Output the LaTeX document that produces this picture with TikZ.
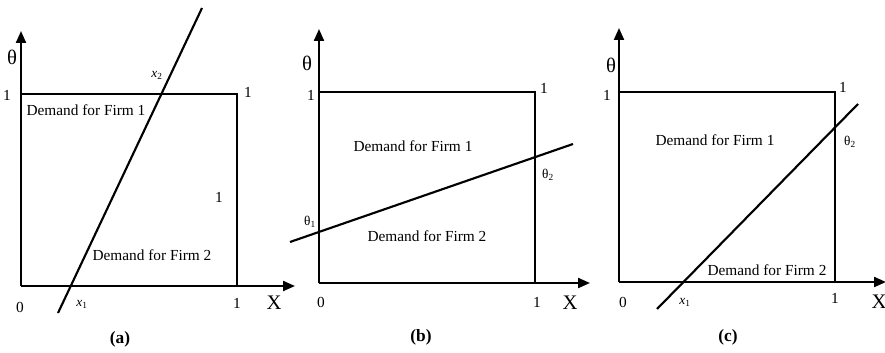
\documentclass[tikz,border=0pt]{standalone}
\usepackage{fontspec}
\setmainfont{Liberation Serif}
\usetikzlibrary{arrows.meta, positioning}

\begin{document}
\begin{tikzpicture}[x=0.75pt, y=-0.75pt,
    axis/.style={line width=1.6pt, -{Triangle[length=9pt, width=7.5pt]}},
    boxline/.style={line width=1.4pt},
    demand/.style={line width=1.6pt},
    lbl/.style={inner sep=0pt, font=\fontsize{11.5}{14}\selectfont},
    small/.style={inner sep=0pt, font=\fontsize{10}{12}\selectfont},
    big/.style={inner sep=0pt, font=\fontsize{15.5}{17}\selectfont},
    panellbl/.style={inner sep=0pt, font=\fontsize{13}{15}\selectfont\bfseries}]
    \useasboundingbox (0,0) rectangle (885,353);

    % panel (a)
    \coordinate (a-o) at (21,286);
    \coordinate (a-y) at (21,31);
    \coordinate (a-x) at (295,286);
    \coordinate (a-tl) at (21,94);
    \coordinate (a-tr) at (237,94);
    \coordinate (a-br) at (237,286);
    \coordinate (a-p) at (58,313);
    \coordinate (a-q) at (202,8);
    \draw[axis] (a-o) -- (a-y);
    \draw[axis] (a-o) -- (a-x);
    \draw[boxline] (a-tl) -- (a-tr) -- (a-br);
    \draw[demand] (a-p) -- (a-q);
    \node[big] (a-theta) at (12,57) {θ};
    \node[lbl] (a-one-l) at (7,95) {1};
    \node[lbl] (a-one-t) at (248,92) {1};
    \node[lbl] (a-one-r) at (219,197) {1};
    \node[lbl] (a-f1) at (86,110) {Demand for Firm 1};
    \node[lbl] (a-f2) at (152,255) {Demand for Firm 2};
    \node[small] (a-x2) at (157,75) {\textit{x}\textsubscript{2}};
    \node[small] (a-x1) at (82,304) {\textit{x}\textsubscript{1}};
    \node[lbl] (a-zero) at (20,307) {0};
    \node[lbl] (a-one-b) at (237,303) {1};
    \node[big] (a-X) at (274,303) {X};
    \node[panellbl] (a-name) at (120,339) {(a)};

    % panel (b)
    \coordinate (b-o) at (319,283);
    \coordinate (b-y) at (319,29);
    \coordinate (b-x) at (590,283);
    \coordinate (b-tl) at (319,92);
    \coordinate (b-tr) at (535,92);
    \coordinate (b-br) at (535,283);
    \coordinate (b-p) at (290,242);
    \coordinate (b-q) at (573,144);
    \draw[axis] (b-o) -- (b-y);
    \draw[axis] (b-o) -- (b-x);
    \draw[boxline] (b-tl) -- (b-tr) -- (b-br);
    \draw[demand] (b-p) -- (b-q);
    \node[big] (b-theta) at (307,63) {θ};
    \node[lbl] (b-one-l) at (311,95) {1};
    \node[lbl] (b-one-t) at (544,88) {1};
    \node[lbl] (b-f1) at (413,146) {Demand for Firm 1};
    \node[lbl] (b-f2) at (427,236) {Demand for Firm 2};
    \node[small] (b-t1) at (310,222) {θ\textsubscript{1}};
    \node[small] (b-t2) at (548,175) {θ\textsubscript{2}};
    \node[lbl] (b-zero) at (321,302) {0};
    \node[lbl] (b-one-b) at (537,302) {1};
    \node[big] (b-X) at (570,303) {X};
    \node[panellbl] (b-name) at (421,337) {(b)};

    % panel (c)
    \coordinate (c-o) at (619,282);
    \coordinate (c-y) at (619,28);
    \coordinate (c-x) at (886,282);
    \coordinate (c-tl) at (619,92);
    \coordinate (c-tr) at (835,92);
    \coordinate (c-br) at (835,282);
    \coordinate (c-p) at (657,309);
    \coordinate (c-q) at (858,104);
    \draw[axis] (c-o) -- (c-y);
    \draw[axis] (c-o) -- (c-x);
    \draw[boxline] (c-tl) -- (c-tr) -- (c-br);
    \draw[demand] (c-p) -- (c-q);
    \node[big] (c-theta) at (611,65) {θ};
    \node[lbl] (c-one-l) at (607,95) {1};
    \node[lbl] (c-one-t) at (843,87) {1};
    \node[lbl] (c-f1) at (715,140) {Demand for Firm 1};
    \node[lbl] (c-f2) at (767,270) {Demand for Firm 2};
    \node[small] (c-t2) at (850,142) {θ\textsubscript{2}};
    \node[small] (c-x1) at (685,302) {\textit{x}\textsubscript{1}};
    \node[lbl] (c-zero) at (623,302) {0};
    \node[lbl] (c-one-b) at (835,298) {1};
    \node[big] (c-X) at (879,302) {X};
    \node[panellbl] (c-name) at (728,337) {(c)};
\end{tikzpicture}
\end{document}
